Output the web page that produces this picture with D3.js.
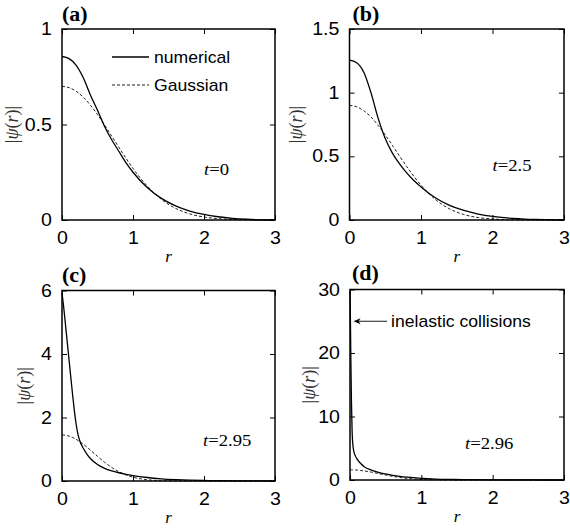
<!DOCTYPE html>
<html><head><meta charset="utf-8">
<script src="https://cdn.jsdelivr.net/npm/d3@7"></script>
<style>
body{margin:0;background:#fff;}
svg{display:block;}
.sans{font-family:"Liberation Sans",Arial,sans-serif;}
.serif{font-family:"Liberation Serif","Times New Roman",serif;}
</style></head><body>
<svg id="chart" width="570" height="529"></svg>
<script>
// ---------------- data ----------------
const rAB = [0,0.1,0.2,0.3,0.4,0.5,0.6,0.7,0.8,0.9,1.0,1.2,1.4,1.6,1.8,2.0,2.2,2.4,2.6,2.8,3.0];
const numA = [0.856,0.845,0.81,0.745,0.655,0.575,0.49,0.42,0.36,0.30,0.25,0.17,0.113,0.074,0.047,0.029,0.017,0.009,0.004,0.001,0];
const gauA = [0.700,0.693,0.674,0.643,0.601,0.552,0.497,0.439,0.381,0.324,0.270,0.178,0.108,0.061,0.032,0.0155,0.007,0.003,0.001,0.0004,0.0001];
const numB = [1.255,1.235,1.16,1.0,0.80,0.64,0.525,0.44,0.37,0.31,0.26,0.175,0.115,0.075,0.047,0.028,0.016,0.009,0.004,0.002,0];
const gauB = [0.900,0.889,0.858,0.809,0.744,0.668,0.586,0.502,0.420,0.343,0.274,0.162,0.087,0.043,0.019,0.008,0.003,0.001,0.0003,0.0001,0];
const rC = [0,0.025,0.05,0.075,0.1,0.125,0.15,0.175,0.2,0.225,0.25,0.3,0.35,0.4,0.5,0.6,0.7,0.8,0.9,1.0,1.2,1.4,1.6,1.8,2.0,2.2,2.5,3.0];
const numC = [5.92,5.45,4.9,4.35,3.8,3.25,2.7,2.2,1.78,1.47,1.27,1.03,0.85,0.71,0.52,0.40,0.32,0.26,0.21,0.17,0.11,0.07,0.045,0.028,0.017,0.01,0.004,0];
const gauC = [1.45,1.448,1.441,1.430,1.414,1.394,1.371,1.343,1.312,1.278,1.240,1.158,1.068,0.972,0.776,0.590,0.426,0.293,0.191,0.119,0.040,0.011,0.002,0.0003,0,0,0,0];
const rD = [0,0.005,0.01,0.015,0.02,0.03,0.04,0.05,0.075,0.1,0.15,0.2,0.3,0.4,0.5,0.6,0.7,0.8,1.0,1.2,1.4,1.6,2.0,2.5,3.0];
const numD = [29.8,26,21,16.5,12.5,7.5,5.6,4.7,3.8,3.3,2.6,2.1,1.55,1.2,0.95,0.74,0.57,0.44,0.26,0.15,0.09,0.055,0.02,0.005,0];
const gauD = [1.6,1.6,1.6,1.6,1.598,1.596,1.593,1.589,1.575,1.555,1.500,1.428,1.237,1.013,0.783,0.572,0.395,0.257,0.092,0.026,0.006,0.001,0,0,0];

const xTicks = [0,1,2,3];
const yTicksA = [0,0.5,1];
const yTicksB = [0,0.5,1,1.5];
const yTicksC = [0,2,4,6];
const yTicksD = [0,10,20,30];
const yMaxes = [1,1.5,6,30];
const panelLabels = ["(a)","(b)","(c)","(d)"];
const timeLabels = ["0","2.5","2.95","2.96"];
const legendLabels = ["numerical","Gaussian"];
const annotationText = "inelastic collisions";
const annotationFrom = [0.52,25];
const annotationTo = [0.05,25];

// ---------------- drawing ----------------
const svg = d3.select("#chart");
const SX = 1.1;
function txt(parent, x, y, str, cls, size, anchor, sx){
  return parent.append("text")
    .attr("class", cls)
    .attr("transform", `translate(${x},${y}) scale(${sx||1},1)`)
    .attr("font-size", size)
    .attr("text-anchor", anchor || "start")
    .text(str);
}

const layout = [
  {left:62,  right:275, top:29,    bottom:220, lab:[0,-8],  t:[142,146],   yt:18},
  {left:349.5,right:564,top:29,    bottom:220, lab:[3,-8],  t:[143,142],   yt:301.5},
  {left:62,  right:275, top:290.5, bottom:481, lab:[0,-8.5],t:[141,155.5], yt:30},
  {left:350, right:564, top:289.5, bottom:480, lab:[2,-9.5],t:[115,159.5], yt:315}
];
const series = [
  {r:rAB, num:numA, gau:gauA, yt:yTicksA},
  {r:rAB, num:numB, gau:gauB, yt:yTicksB},
  {r:rC,  num:numC, gau:gauC, yt:yTicksC},
  {r:rD,  num:numD, gau:gauD, yt:yTicksD}
];
const fmt = d => String(d);

layout.forEach((L, i) => {
  const S = series[i];
  const x = d3.scaleLinear().domain([0,3]).range([L.left, L.right]);
  const y = d3.scaleLinear().domain([0, yMaxes[i]]).range([L.bottom, L.top]);
  const g = svg.append("g");

  // curves
  const line = d3.line().x(d => x(d[0])).y(d => y(d[1])).curve(d3.curveMonotoneX);
  g.append("path").datum(S.r.map((r,k)=>[r,S.gau[k]]))
    .attr("d", line).attr("fill","none").attr("stroke","#222")
    .attr("stroke-width",1).attr("stroke-dasharray","3,2");
  g.append("path").datum(S.r.map((r,k)=>[r,S.num[k]]))
    .attr("d", line).attr("fill","none").attr("stroke","#000")
    .attr("stroke-width",1.3);

  // axes
  const ax = [
    g.append("g").attr("transform",`translate(0,${L.bottom})`)
      .call(d3.axisBottom(x).tickValues(xTicks).tickSizeInner(-5).tickSizeOuter(0).tickPadding(11.5).tickFormat(fmt)),
    g.append("g").attr("transform",`translate(${L.left},0)`)
      .call(d3.axisLeft(y).tickValues(S.yt).tickSizeInner(-5).tickSizeOuter(0).tickPadding(9).tickFormat(fmt)),
    g.append("g").attr("transform",`translate(0,${L.top})`)
      .call(d3.axisTop(x).tickValues(xTicks).tickSizeInner(-5).tickSizeOuter(0).tickFormat(()=>"")),
    g.append("g").attr("transform",`translate(${L.right},0)`)
      .call(d3.axisRight(y).tickValues(S.yt).tickSizeInner(-5).tickSizeOuter(0).tickFormat(()=>""))
  ];
  ax.forEach(a => {
    a.select(".domain").remove();
    a.selectAll("line").attr("stroke","#000").attr("stroke-width",1);
    a.selectAll("text").attr("class","sans").attr("font-size",17.5).attr("fill","#000")
      .attr("transform",`scale(1.12,1)`);
  });

  // frame
  g.append("rect").attr("x",L.left).attr("y",L.top)
    .attr("width",L.right-L.left).attr("height",L.bottom-L.top)
    .attr("fill","none").attr("stroke","#000").attr("stroke-width",1.5);

  // panel label
  txt(g, L.left+L.lab[0], L.top+L.lab[1], panelLabels[i], "serif", 20, "start", SX)
    .attr("font-weight","bold");

  // time label
  const tt = txt(g, L.left+L.t[0], L.top+L.t[1], "", "serif", 17, "start", SX);
  tt.append("tspan").attr("font-style","italic").text("t");
  tt.append("tspan").text("=" + timeLabels[i]);

  // axis titles
  const xt = txt(g, (L.left+L.right)/2, L.bottom+42, "r", "serif", 17, "middle", 1);
  xt.attr("font-style","italic");
  svg.append("text").attr("class","serif")
    .attr("transform",`translate(${L.yt},${(L.top+L.bottom)/2}) rotate(-90)`)
    .attr("text-anchor","middle")
    .attr("font-size",18).attr("fill","#333")
    .html('|<tspan font-style="italic">ψ</tspan>(<tspan font-style="italic">r</tspan>)|');

  // legend in (a)
  if (i === 0) {
    [0,1].forEach(k => {
      const ly = L.top + 28 + k*28;
      g.append("line").attr("x1",L.left+50).attr("x2",L.left+87)
        .attr("y1",ly).attr("y2",ly)
        .attr("stroke", k ? "#222" : "#000").attr("stroke-width", k ? 1 : 1.3)
        .attr("stroke-dasharray", k ? "3,2" : null);
      txt(g, L.left+92, ly+6, legendLabels[k], "sans", 16, "start", SX);
    });
  }

  // annotation in (d)
  if (i === 3) {
    const x0 = x(annotationFrom[0]), y0 = y(annotationFrom[1]);
    const x1 = x(annotationTo[0]), y1 = y(annotationTo[1]);
    g.append("line").attr("x1",x0).attr("y1",y0).attr("x2",x1+4).attr("y2",y1)
      .attr("stroke","#000").attr("stroke-width",0.9);
    g.append("path")
      .attr("d",`M${x1},${y1} L${x1+7},${y1-3} L${x1+5},${y1} L${x1+7},${y1+3} Z`)
      .attr("fill","#000");
    txt(g, x0+4, y0+5.5, annotationText, "sans", 16, "start", SX);
  }
});
</script>
</body></html>
